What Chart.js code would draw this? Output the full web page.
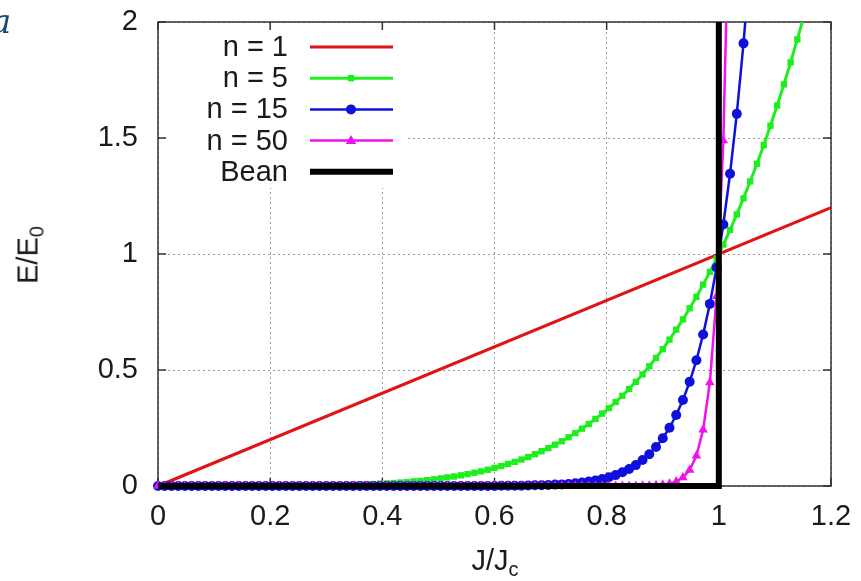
<!DOCTYPE html>
<html>
<head>
<meta charset="utf-8">
<script src="https://cdn.jsdelivr.net/npm/chart.js@4.4.1/dist/chart.umd.min.js"></script>
<style>
    body { margin: 0; background: #fff; }
    #caixa { position: relative; width: 861px; height: 581px; overflow: hidden; }
    #grafico { position: absolute; left: 0; top: 0; }
    .titulo { position: absolute; font-family: "Liberation Sans", Arial, sans-serif; font-size: 29px; color: #1a1a1a; white-space: nowrap; }
    .titulo sub { font-size: 20px; vertical-align: -6px; }
    #tituloY { left: 30px; top: 255px; transform: translate(-50%, -50%) rotate(-90deg); }
    #tituloX { left: 495px; top: 562px; transform: translate(-50%, -50%); }
    #letra { position: absolute; left: -9px; top: 1px; font-family: "DejaVu Serif", "Liberation Serif", serif; font-style: italic; font-size: 34px; color: #1a4a6e; }
</style>
</head>
<body>
<div id="caixa">
    <canvas id="grafico" width="861" height="581"></canvas>
    <div id="letra">a</div>
    <div class="titulo" id="tituloY">E/E<sub>0</sub></div>
    <div class="titulo" id="tituloX">J/J<sub>c</sub></div>
</div>
<script>
// J/Jc sampled along the curves (markers)
var jValores = [
    0, 0.012, 0.024, 0.036, 0.048, 0.06, 0.072, 0.084, 0.096, 0.108,
    0.12, 0.132, 0.144, 0.156, 0.168, 0.18, 0.192, 0.204, 0.216, 0.228,
    0.24, 0.252, 0.264, 0.276, 0.288, 0.3, 0.312, 0.324, 0.336, 0.348,
    0.36, 0.372, 0.384, 0.396, 0.408, 0.42, 0.432, 0.444, 0.456, 0.468,
    0.48, 0.492, 0.504, 0.516, 0.528, 0.54, 0.552, 0.564, 0.576, 0.588,
    0.6, 0.612, 0.624, 0.636, 0.648, 0.66, 0.672, 0.684, 0.696, 0.708,
    0.72, 0.732, 0.744, 0.756, 0.768, 0.78, 0.792, 0.804, 0.816, 0.828,
    0.84, 0.852, 0.864, 0.876, 0.888, 0.9, 0.912, 0.924, 0.936, 0.948,
    0.96, 0.972, 0.984, 0.996, 1.008, 1.02, 1.032, 1.044, 1.056, 1.068,
    1.08, 1.092, 1.104, 1.116, 1.128, 1.14, 1.152
];

// E/E0 for each curve
var n1J = [0, 1.2];
var n1E = [0, 1.2];

var n5E = [
    0, 0, 0, 0, 0, 0, 0, 0, 0, 0,
    0, 0, 0, 0, 0, 0, 0, 0, 0, 0.001,
    0.001, 0.001, 0.001, 0.002, 0.002, 0.002, 0.003, 0.004, 0.004, 0.005,
    0.006, 0.007, 0.008, 0.010, 0.011, 0.013, 0.015, 0.017, 0.020, 0.022,
    0.025, 0.029, 0.033, 0.037, 0.041, 0.046, 0.051, 0.057, 0.063, 0.070,
    0.078, 0.086, 0.095, 0.104, 0.114, 0.125, 0.137, 0.150, 0.163, 0.178,
    0.193, 0.210, 0.228, 0.247, 0.267, 0.289, 0.312, 0.336, 0.362, 0.389,
    0.418, 0.449, 0.481, 0.516, 0.552, 0.590, 0.631, 0.674, 0.718, 0.766,
    0.815, 0.868, 0.923, 0.980, 1.041, 1.104, 1.171, 1.240, 1.313, 1.389,
    1.469, 1.553, 1.640, 1.731, 1.826, 1.925, 2.029
];

var n15E = [
    0, 0, 0, 0, 0, 0, 0, 0, 0, 0,
    0, 0, 0, 0, 0, 0, 0, 0, 0, 0,
    0, 0, 0, 0, 0, 0, 0, 0, 0, 0,
    0, 0, 0, 0, 0, 0, 0, 0, 0, 0,
    0, 0, 0, 0, 0, 0, 0, 0, 0, 0,
    0, 0.001, 0.001, 0.001, 0.001, 0.002, 0.003, 0.003, 0.004, 0.006,
    0.007, 0.009, 0.012, 0.015, 0.019, 0.024, 0.030, 0.038, 0.047, 0.059,
    0.073, 0.090, 0.112, 0.137, 0.168, 0.206, 0.251, 0.306, 0.371, 0.449,
    0.542, 0.653, 0.785, 0.942, 1.127, 1.346, 1.604, 1.908, 2.264
];

var n50E = [
    0, 0, 0, 0, 0, 0, 0, 0, 0, 0,
    0, 0, 0, 0, 0, 0, 0, 0, 0, 0,
    0, 0, 0, 0, 0, 0, 0, 0, 0, 0,
    0, 0, 0, 0, 0, 0, 0, 0, 0, 0,
    0, 0, 0, 0, 0, 0, 0, 0, 0, 0,
    0, 0, 0, 0, 0, 0, 0, 0, 0, 0,
    0, 0, 0, 0, 0, 0, 0, 0, 0, 0,
    0, 0, 0.001, 0.001, 0.003, 0.005, 0.010, 0.019, 0.037, 0.069,
    0.130, 0.242, 0.446, 0.818, 1.489, 2.692
];

// Bean model: step at J = Jc
var beanJ = [0, 1, 1];
var beanE = [0, 0, 2.2];

var rotulos = ['n = 1', 'n = 5', 'n = 15', 'n = 50', 'Bean'];

var fonte = '"Liberation Sans", Arial, Helvetica, sans-serif';

function montarPontos(xs, ys) {
    var pontos = [];
    for (var i = 0; i < ys.length; i++) {
        pontos.push({ x: xs[i], y: ys[i] });
    }
    return pontos;
}

// rótulo do eixo sem zeros sobrando (1 e não 1.0)
function formatarTick(valor) {
    return String(Number(valor.toFixed(2)));
}

// desenha um marcador (usado na legenda)
function desenharMarcador(ctx, estilo, raio, x, y, cor) {
    ctx.fillStyle = cor;
    ctx.beginPath();
    if (estilo == 'rect') {
        var lado = raio * Math.SQRT1_2;
        ctx.rect(x - lado, y - lado, 2 * lado, 2 * lado);
    } else if (estilo == 'circle') {
        ctx.arc(x, y, raio, 0, Math.PI * 2);
    } else if (estilo == 'triangle') {
        ctx.moveTo(x, y - raio);
        ctx.lineTo(x + raio * 0.95, y + raio * 0.6);
        ctx.lineTo(x - raio * 0.95, y + raio * 0.6);
        ctx.closePath();
    }
    ctx.fill();
}

// moldura com marcas para dentro, estilo gnuplot
var molduraPlugin = {
    id: 'moldura',
    beforeDatasetsDraw(chart) {
        var ctx = chart.ctx;
        var area = chart.chartArea;
        var escX = chart.scales.x;
        var escY = chart.scales.y;
        ctx.save();
        ctx.strokeStyle = '#333';
        ctx.lineWidth = 1.5;
        ctx.strokeRect(area.left, area.top, area.right - area.left, area.bottom - area.top);
        ctx.beginPath();
        escX.ticks.forEach(t => {
            var px = escX.getPixelForValue(t.value);
            ctx.moveTo(px, area.bottom); ctx.lineTo(px, area.bottom - 8);
            ctx.moveTo(px, area.top); ctx.lineTo(px, area.top + 8);
        });
        escY.ticks.forEach(t => {
            var py = escY.getPixelForValue(t.value);
            ctx.moveTo(area.left, py); ctx.lineTo(area.left + 8, py);
            ctx.moveTo(area.right, py); ctx.lineTo(area.right - 8, py);
        });
        ctx.stroke();
        ctx.restore();
    }
};

// legenda dentro do gráfico, texto à esquerda da amostra
var legendaPlugin = {
    id: 'legendaInterna',
    afterDatasetsDraw(chart) {
        var ctx = chart.ctx;
        ctx.save();
        ctx.fillStyle = '#fff';
        ctx.fillRect(168, 31, 238, 157);
        ctx.font = '29px ' + fonte;
        ctx.textAlign = 'right';
        ctx.textBaseline = 'middle';
        chart.data.datasets.forEach((ds, i) => {
            var y = 47 + i * 31.2;
            ctx.fillStyle = '#1a1a1a';
            ctx.fillText(ds.label, 288, y + 1);
            ctx.strokeStyle = ds.borderColor;
            ctx.lineWidth = ds.borderWidth;
            ctx.beginPath();
            ctx.moveTo(310, y);
            ctx.lineTo(393, y);
            ctx.stroke();
            if (ds.pointRadius > 0) {
                desenharMarcador(ctx, ds.pointStyle, ds.pointRadius, 351, y, ds.borderColor);
            }
        });
        ctx.restore();
    }
};

var dados = {
    datasets: [{
        label: rotulos[0],
        data: montarPontos(n1J, n1E),
        borderColor: '#e01414',
        borderWidth: 3,
        pointRadius: 0,
        order: 4
    },
    {
        label: rotulos[1],
        data: montarPontos(jValores, n5E),
        borderColor: '#1eee1e',
        backgroundColor: '#1eee1e',
        borderWidth: 3,
        pointStyle: 'rect',
        pointRadius: 4.5,
        pointBorderWidth: 0,
        order: 3
    },
    {
        label: rotulos[2],
        data: montarPontos(jValores, n15E),
        borderColor: '#1010dc',
        backgroundColor: '#1010dc',
        borderWidth: 2.5,
        pointStyle: 'circle',
        pointRadius: 5,
        pointBorderWidth: 0,
        order: 2
    },
    {
        label: rotulos[3],
        data: montarPontos(jValores, n50E),
        borderColor: '#f010f0',
        backgroundColor: '#f010f0',
        borderWidth: 2.5,
        pointStyle: 'triangle',
        pointRadius: 5.5,
        pointBorderWidth: 0,
        order: 1
    },
    {
        label: rotulos[4],
        data: montarPontos(beanJ, beanE),
        borderColor: '#000',
        borderWidth: 6,
        pointRadius: 0,
        order: 0
    }]
};

var config = {
    type: 'line',
    data: dados,
    options: {
        responsive: false,
        animation: false,
        devicePixelRatio: 1,
        layout: { padding: { left: 0, top: 22, right: 30, bottom: 0 } },
        elements: { line: { tension: 0, fill: false } },
        datasets: { line: { clip: { left: 8, top: 0, right: 0, bottom: 8 } } },
        scales: {
            x: {
                type: 'linear',
                min: 0,
                max: 1.2,
                afterFit: function (escala) {
                    escala.height = 95;
                    escala.paddingLeft = 0;
                    escala.paddingRight = 0;
                },
                ticks: {
                    stepSize: 0.2,
                    padding: 14,
                    color: '#1a1a1a',
                    maxRotation: 0,
                    callback: formatarTick,
                    font: { family: fonte, size: 29 }
                },
                grid: { color: '#9a9a9a', lineWidth: 1, drawTicks: false },
                border: { display: false, dash: [2, 3] }
            },
            y: {
                min: 0,
                max: 2,
                afterFit: function (escala) {
                    escala.width = 158;
                    escala.paddingTop = 0;
                    escala.paddingBottom = 0;
                },
                ticks: {
                    stepSize: 0.5,
                    padding: 20,
                    color: '#1a1a1a',
                    callback: formatarTick,
                    font: { family: fonte, size: 29 }
                },
                grid: { color: '#9a9a9a', lineWidth: 1, drawTicks: false },
                border: { display: false, dash: [2, 3] }
            }
        },
        plugins: {
            legend: { display: false },
            tooltip: { enabled: false }
        }
    },
    plugins: [molduraPlugin, legendaPlugin]
};

var grafico = new Chart(document.getElementById('grafico'), config);
</script>
</body>
</html>
